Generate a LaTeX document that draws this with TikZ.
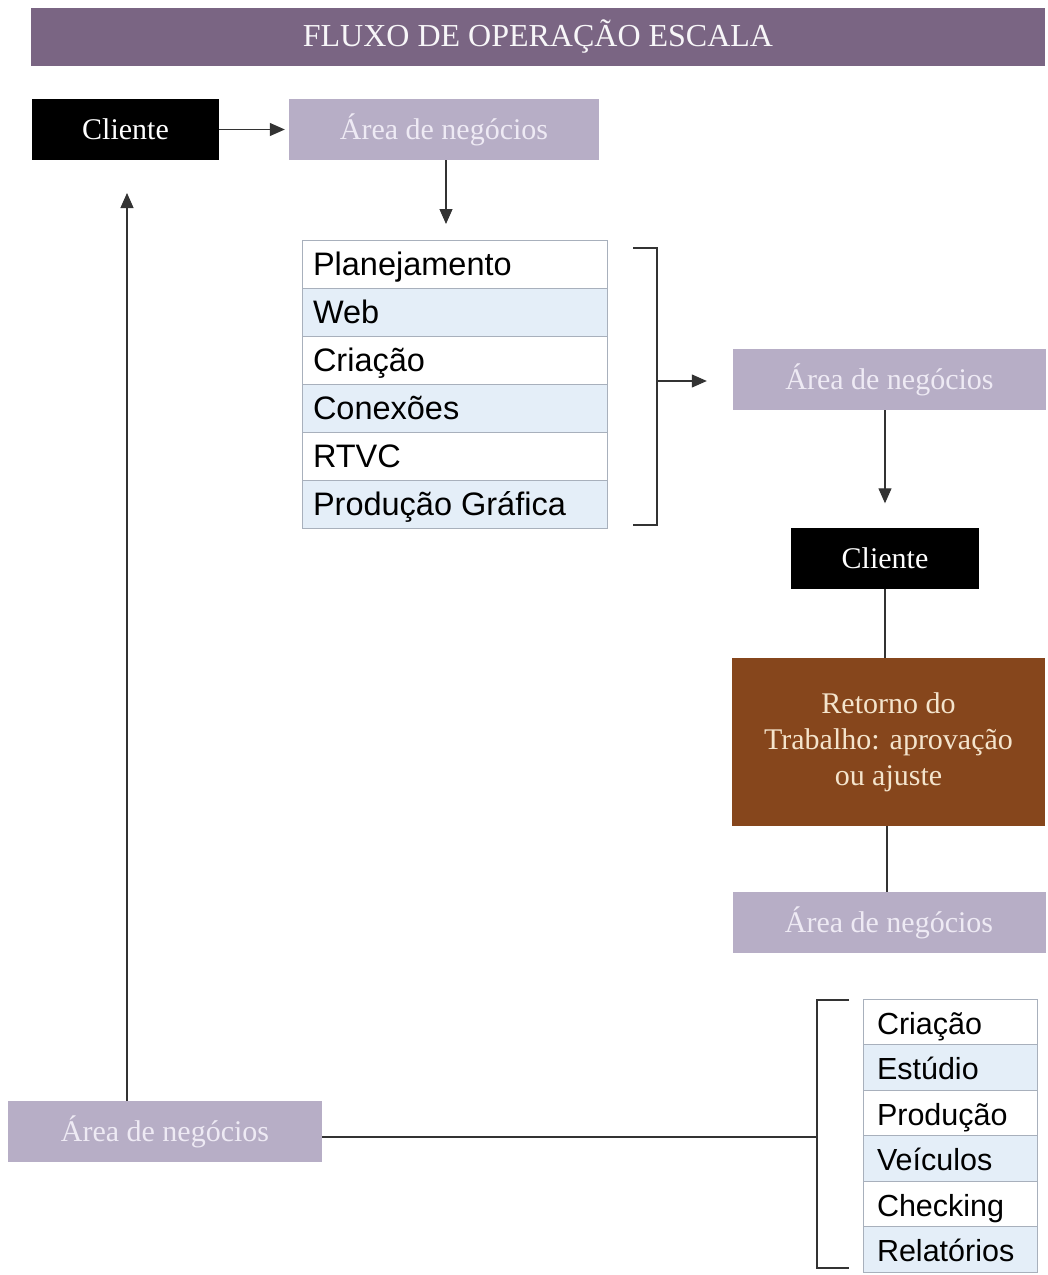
\documentclass[tikz,border=0pt]{standalone}
\usepackage{fontspec}
\setmainfont{Liberation Serif}
\newfontfamily\listfont{Liberation Sans}
\usetikzlibrary{arrows.meta,calc}
\definecolor{titlecol}{HTML}{7A6583}
\definecolor{areacol}{HTML}{B7AEC6}
\definecolor{areatxt}{HTML}{EEEAF4}
\definecolor{browncol}{HTML}{86461C}
\definecolor{browntxt}{HTML}{F4E4CC}
\definecolor{rowblue}{HTML}{E4EEF8}
\definecolor{rowline}{HTML}{A8B0BC}
\newcommand{\rowtxtA}[1]{\makebox[283pt][l]{#1}}
\newcommand{\rowtxtB}[1]{\makebox[146pt][l]{#1}}
\tikzset{
  bx/.style={rectangle, inner sep=0pt, minimum height=61pt},
  clientbox/.style={bx, fill=black, text=white, minimum width=188pt, font=\fontsize{30}{36}\selectfont},
  areabox/.style={bx, fill=areacol, text=areatxt, minimum width=313pt, font=\fontsize{30}{36}\selectfont},
  rowA/.style={rectangle, draw=rowline, line width=1pt, fill=white, inner ysep=0pt,
     text height=27pt, text depth=5pt, font=\listfont\fontsize{32.5}{38}\selectfont},
  rowB/.style={rowA, fill=rowblue},
  conn/.style={line width=1.2pt, draw=black!80},
  arr/.style={conn, -{Triangle[length=15pt,width=13pt]}},
}
\begin{document}
\begin{tikzpicture}[x=1pt,y=-1pt]
\useasboundingbox[fill=white] (0,0) rectangle (1048,1275);
% title
\node[rectangle, fill=titlecol, minimum width=1014pt, minimum height=58pt, inner sep=0pt,
  text=white!94!titlecol, font=\fontsize{32}{38}\selectfont] (title) at (538,37) {FLUXO DE OPERAÇÃO ESCALA};
% top row
\node[clientbox, minimum width=187pt] (cli1) at (125.5,129.5) {Cliente};
\node[areabox, minimum width=310pt] (area1) at (444,129.5) {Área de negócios};
% list 1
\tikzset{l1/.style={inner xsep=11pt, minimum height=48pt}}
\node[rowA,l1] (p1) at (454.5,264) {\rowtxtA{Planejamento}};
\node[rowB,l1] (p2) at (454.5,312) {\rowtxtA{Web}};
\node[rowA,l1] (p3) at (454.5,360) {\rowtxtA{Criação}};
\node[rowB,l1] (p4) at (454.5,408) {\rowtxtA{Conexões}};
\node[rowA,l1] (p5) at (454.5,456) {\rowtxtA{RTVC}};
\node[rowB,l1] (p6) at (454.5,504) {\rowtxtA{Produção Gráfica}};
% right column
\node[areabox] (area2) at (889.5,379.5) {Área de negócios};
\node[clientbox] (cli2) at (885,558) {Cliente};
\node[rectangle, fill=browncol, text=browntxt, minimum width=313pt, minimum height=168pt, inner sep=0pt,
  align=center, font=\fontsize{30}{36}\selectfont] (ret) at (888.5,742) {Retorno do\\Trabalho: aprovação\\ou ajuste};
\node[areabox] (area3) at (889,922.5) {Área de negócios};
% list 2
\tikzset{l2/.style={inner xsep=14pt, minimum height=45.5pt, text height=29pt, text depth=4pt,
  font=\listfont\fontsize{30.5}{36}\selectfont}}
\node[rowA,l2] (q1) at (950,1021.75) {\rowtxtB{Criação}};
\node[rowB,l2] (q2) at (950,1067.25) {\rowtxtB{Estúdio}};
\node[rowA,l2] (q3) at (950,1112.75) {\rowtxtB{Produção}};
\node[rowB,l2] (q4) at (950,1158.25) {\rowtxtB{Veículos}};
\node[rowA,l2] (q5) at (950,1203.75) {\rowtxtB{Checking}};
\node[rowB,l2] (q6) at (950,1249.25) {\rowtxtB{Relatórios}};
% bottom left
\node[areabox, minimum width=314pt] (area4) at (165,1131.5) {Área de negócios};
% connectors
\draw[arr, shorten >=4pt] (cli1.east) -- (area1.west);
\draw[arr] (area1.south -| 446,0) -- (446,224);
\coordinate (br1) at (657,381);
\draw[conn] (633,248) -- (657,248) -- (657,525) -- (633,525);
\draw[arr, shorten >=26pt] (br1) -- (br1 -| area2.west);
\draw[arr, shorten >=24pt] (cli2.north |- area2.south) -- (cli2.north);
\draw[conn] (cli2.south) -- (cli2.south |- ret.north);
\draw[conn] (ret.south -| 887,0) -- (area3.north -| 887,0);
\coordinate (br2) at (817,1137);
\draw[conn] (849,1000) -- (817,1000) -- (817,1268) -- (849,1268);
\draw[conn] (br2 -| area4.east) -- (br2);
\coordinate (up) at (127,193);
\draw[arr] (area4.north -| up) -- (up);
\end{tikzpicture}
\end{document}
